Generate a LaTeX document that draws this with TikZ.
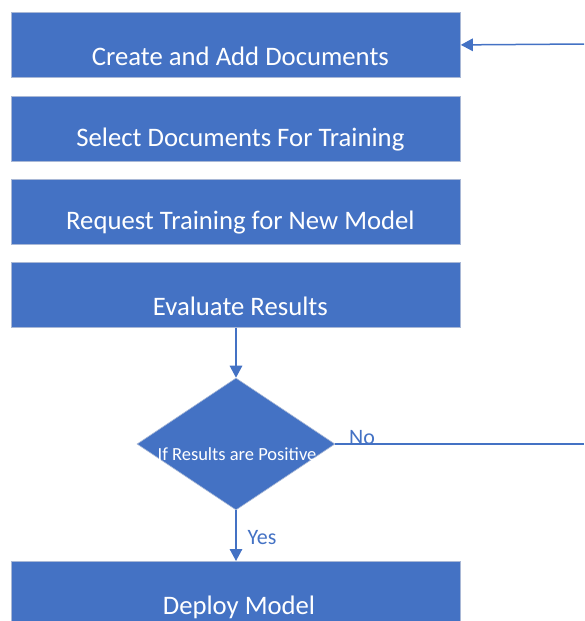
\documentclass[tikz,border=0pt]{standalone}
\usepackage{fontspec}
\setmainfont{Carlito}
\usetikzlibrary{shapes.geometric,arrows.meta}
\definecolor{ablue}{HTML}{4472C4}
\definecolor{aedge}{HTML}{A9B8D6}
\begin{document}
\begin{tikzpicture}[x=1pt,y=-1pt,
  box/.style={draw=aedge,line width=0.8pt,fill=ablue,minimum width=449pt,minimum height=65pt,inner sep=0pt},
  boxtext/.style={text=white,font=\fontsize{26.7}{30}\selectfont,inner sep=0pt,anchor=center},
  conn/.style={draw=ablue,line width=1.5pt},
  tip/.style={-{Triangle[length=12pt,width=12.5pt]}},
  lbl/.style={text=ablue,font=\fontsize{22}{26}\selectfont,inner sep=0pt}]
\useasboundingbox (0,0) rectangle (584,621);
\node[box,anchor=north west] (b1) at (11,12) {};
\node[box,anchor=north west] (b2) at (11,95.5) {};
\node[box,anchor=north west] (b3) at (11,179) {};
\node[box,anchor=north west] (b4) at (11,262) {};
\node[box,anchor=north west] (b5) at (11,561) {};
\node[boxtext] (t1) at ([xshift=4.5pt,yshift=-11pt]b1.center) {Create and Add Documents};
\node[boxtext] (t2) at ([xshift=4.5pt,yshift=-11pt]b2.center) {Select Documents For Training};
\node[boxtext] (t3) at ([xshift=4.5pt,yshift=-11pt]b3.center) {Request Training for New Model};
\node[boxtext] (t4) at ([xshift=4.5pt,yshift=-11pt]b4.center) {Evaluate Results};
\node[boxtext] (t5) at (239,607) {Deploy Model};
\node[diamond,draw=aedge,line width=0.6pt,fill=ablue,minimum width=198pt,minimum height=132pt,inner sep=0pt,aspect=1.5] (d) at (236,444) {};
\node[text=white,font=\fontsize{18.5}{22}\selectfont,inner sep=0pt] (dt) at (237,454) {If Results are Positive};
\coordinate (noend) at (584,444);
\coordinate (back) at (584,44);
\draw[conn,tip] (b4.south -| d.north) -- (d.north);
\draw[conn,tip] (d.south) -- (b5.north -| d.south);
\draw[conn] (d.east) -- (noend);
\draw[conn,tip] (back) -- (b1.east);
\node[lbl] (no) at (362,438) {No};
\node[lbl] (yes) at (262,538) {Yes};
\end{tikzpicture}
\end{document}
